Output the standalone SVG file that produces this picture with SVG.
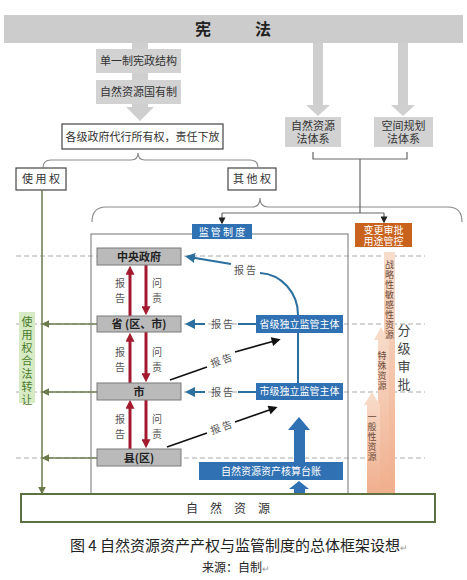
<svg xmlns="http://www.w3.org/2000/svg" width="467" height="580" viewBox="0 0 467 580">
<style>
text{font-family:"Noto Sans CJK SC","Liberation Sans",sans-serif;}
.two{font-family:"Liberation Sans","Noto Sans CJK SC",sans-serif;}
.gbox{fill:#d2d2d2;}
.t11{font-size:11px;fill:#333;text-anchor:middle;}
.wbox{fill:#fff;stroke:#444;stroke-width:1.2;}
.gov{fill:#bababa;stroke:#7a7a7a;stroke-width:1;}
.govt{font-size:11px;fill:#222;text-anchor:middle;font-weight:bold;}
.blue{fill:#2f71b3;}
.wt{font-size:10px;fill:#fff;text-anchor:middle;}
.dash{stroke:#aaa;stroke-width:1;stroke-dasharray:5,3;fill:none;}
.frame{stroke:#8a8a8a;stroke-width:1.2;fill:none;}
.brace{stroke:#8a8a8a;stroke-width:1.2;fill:none;}
.conn{stroke:#666;stroke-width:1.2;fill:none;}
.green{stroke:#6b7a4a;stroke-width:1.5;fill:none;}
.red{stroke:#a3192e;stroke-width:3;fill:none;}
.bl{stroke:#2a6f9e;stroke-width:2;fill:none;}
.blk{stroke:#111;stroke-width:1.6;fill:none;}
.lab{font-size:10px;fill:#555;text-anchor:middle;}
.vert{writing-mode:vertical-rl;text-anchor:start;}
.vt{font-size:9px;fill:#6a4a3a;letter-spacing:1px;}
</style>
<defs>
<marker id="mg" viewBox="0 0 10 10" refX="8" refY="5" markerWidth="8" markerHeight="8" orient="auto" markerUnits="userSpaceOnUse"><path d="M0,0 L10,5 L0,10 z" fill="#6b7a4a"/></marker>
<marker id="mr" viewBox="0 0 10 10" refX="3" refY="5" markerWidth="9" markerHeight="9" orient="auto" markerUnits="userSpaceOnUse"><path d="M0,0 L10,5 L0,10 z" fill="#a3192e"/></marker>
<marker id="mb" viewBox="0 0 10 10" refX="6" refY="5" markerWidth="10" markerHeight="10" orient="auto" markerUnits="userSpaceOnUse"><path d="M0,0 L10,5 L0,10 z" fill="#2a6f9e"/></marker>
<marker id="mk" viewBox="0 0 10 10" refX="7" refY="5" markerWidth="10" markerHeight="9" orient="auto" markerUnits="userSpaceOnUse"><path d="M0,0 L10,5 L0,10 z" fill="#111"/></marker>
<marker id="md" viewBox="0 0 10 10" refX="8" refY="5" markerWidth="7" markerHeight="7" orient="auto" markerUnits="userSpaceOnUse"><path d="M0,0 L10,5 L0,10 z" fill="#222"/></marker>
<linearGradient id="pg" x1="0" y1="0" x2="0" y2="1"><stop offset="0" stop-color="#f8ddcc"/><stop offset="1" stop-color="#f0ae8c"/></linearGradient>
</defs>

<!-- dashed level lines -->
<g id="levels">
<line class="dash" x1="16" y1="256" x2="425" y2="256"/>
<line class="dash" x1="16" y1="324" x2="425" y2="324"/>
<line class="dash" x1="16" y1="392" x2="425" y2="392"/>
<line class="dash" x1="16" y1="458" x2="425" y2="458"/>
</g>

<!-- gray wide arrows from constitution -->
<g id="gray-arrows" fill="#cfcfcf">
<rect x="132" y="43" width="16" height="65"/>
<polygon points="126,107 154,107 140,121"/>
<rect x="313" y="43" width="10" height="65"/>
<polygon points="306,105 330,105 318,116"/>
<rect x="398" y="43" width="10" height="65"/>
<polygon points="391,105 415,105 403,116"/>
</g>

<g id="xianfa">
<rect x="4" y="15" width="459" height="28" fill="#cccccc"/>
<text x="203" y="35" font-size="16" font-weight="bold" fill="#222" text-anchor="middle">宪</text>
<text x="263" y="35" font-size="16" font-weight="bold" fill="#222" text-anchor="middle">法</text>
</g>
<g id="danyizhi"><rect class="gbox" x="96" y="49" width="85" height="24"/><text class="t11" x="138.5" y="65">单一制宪政结构</text></g>
<g id="guoyouzhi"><rect class="gbox" x="96" y="80" width="85" height="24"/><text class="t11" x="138.5" y="96">自然资源国有制</text></g>
<g id="zrzyfa"><rect class="gbox" x="285" y="117" width="56" height="30"/><text class="t11 two" x="313" y="130"><tspan x="313">自然资源</tspan><tspan x="313" dy="13">法体系</tspan></text></g>
<g id="kjghfa"><rect class="gbox" x="374" y="117" width="59" height="30"/><text class="t11 two" x="403.5" y="130"><tspan x="403.5">空间规划</tspan><tspan x="403.5" dy="13">法体系</tspan></text></g>

<g id="gejizhengfu"><rect class="wbox" x="62" y="124" width="161" height="25"/><text class="t11" x="142.5" y="140.5" fill="#222">各级政府代行所有权，责任下放</text></g>
<g id="shiyongquan"><rect class="wbox" x="16" y="168" width="50" height="22"/><text class="t11" x="41" y="183" fill="#222">使 用 权</text></g>
<g id="qitaquan"><rect class="wbox" x="228" y="168" width="48" height="22"/><text class="t11" x="252" y="183" fill="#222">其 他 权</text></g>

<!-- connectors -->
<g id="connectors">
<path class="brace" d="M43,168 Q43,160 51,160 L131,160 Q138,160 138,153 Q138,160 145,160 L250,160 Q258,160 258,168"/>
<path class="brace" d="M92,222 Q92,207 106,207 L252,207 Q260,207 260,198 Q260,207 268,207 L448,207 Q462,207 462,222"/>
<path class="conn" d="M313,152 L313,159 L407,159 L407,152"/>
<line class="conn" x1="360" y1="159" x2="360" y2="213"/>
<line class="conn" x1="222" y1="213" x2="384" y2="213"/>
<line class="conn" x1="222" y1="213" x2="222" y2="223" marker-end="url(#md)"/>
<line class="conn" x1="384" y1="213" x2="384" y2="222" marker-end="url(#md)"/>
<line class="green" x1="42" y1="190" x2="42" y2="493" marker-end="url(#mg)"/>
<line class="green" x1="97" y1="324" x2="43" y2="324" marker-end="url(#mg)"/>
<line class="green" x1="97" y1="392" x2="43" y2="392" marker-end="url(#mg)"/>
<line class="green" x1="97" y1="458" x2="43" y2="458" marker-end="url(#mg)"/>
<line class="red" x1="130" y1="316" x2="130" y2="272" marker-end="url(#mr)"/>
<line class="red" x1="146" y1="265" x2="146" y2="309" marker-end="url(#mr)"/>
<line class="red" x1="130" y1="383" x2="130" y2="339" marker-end="url(#mr)"/>
<line class="red" x1="146" y1="332" x2="146" y2="376" marker-end="url(#mr)"/>
<line class="red" x1="130" y1="449" x2="130" y2="406" marker-end="url(#mr)"/>
<line class="red" x1="146" y1="400" x2="146" y2="442" marker-end="url(#mr)"/>
<path class="bl" d="M298,315 A40,42 0 0 0 260,273"/>
<line class="bl" x1="231" y1="264" x2="189" y2="257" marker-end="url(#mb)"/>
<line class="bl" x1="298" y1="333" x2="298" y2="383"/>
<line class="bl" x1="256" y1="324" x2="238" y2="324"/>
<line class="bl" x1="205" y1="324" x2="189" y2="324" marker-end="url(#mb)"/>
<line class="bl" x1="256" y1="392" x2="238" y2="392"/>
<line class="bl" x1="205" y1="392" x2="189" y2="392" marker-end="url(#mb)"/>
<line class="blk" x1="170" y1="380" x2="207" y2="367"/>
<line class="blk" x1="235" y1="352" x2="278" y2="340" marker-end="url(#mk)"/>
<line class="blk" x1="167" y1="447" x2="207" y2="433"/>
<line class="blk" x1="235" y1="422" x2="275" y2="408" marker-end="url(#mk)"/>
</g>

<g id="frame"><rect class="frame" x="91" y="234" width="257" height="262"/></g>

<g id="labels">
<text class="lab" x="120" y="287">报</text><text class="lab" x="120" y="302">告</text>
<text class="lab" x="157" y="287">问</text><text class="lab" x="157" y="302">责</text>
<text class="lab" x="120" y="356">报</text><text class="lab" x="120" y="371">告</text>
<text class="lab" x="157" y="356">问</text><text class="lab" x="157" y="371">责</text>
<text class="lab" x="120" y="423">报</text><text class="lab" x="120" y="438">告</text>
<text class="lab" x="157" y="423">问</text><text class="lab" x="157" y="438">责</text>
<text class="lab" x="245" y="274">报 告</text>
<text class="lab" x="222" y="328">报 告</text>
<text class="lab" x="222" y="396">报 告</text>
<text class="lab" x="221" y="364" transform="rotate(-20 221 360)">报 告</text>
<text class="lab" x="221" y="431" transform="rotate(-20 221 427)">报 告</text>
</g>

<g id="jianguanzhidu"><rect class="blue" x="192" y="224" width="60" height="15"/><text class="wt" x="222" y="235.5">监 管 制 度</text></g>
<g id="biangeng"><rect x="355" y="223" width="57" height="24" fill="#c9621c"/><text class="wt two" x="383.5" y="233.5"><tspan x="383.5">变更审批</tspan><tspan x="383.5" dy="11">用途管控</tspan></text></g>

<g id="zhongyang"><rect class="gov" x="97" y="248" width="84" height="17"/><text class="govt" x="139" y="260.5">中央政府</text></g>
<g id="sheng"><rect class="gov" x="97" y="316" width="84" height="16"/><text class="govt" x="139" y="328">省 (区、市)</text></g>
<g id="shi"><rect class="gov" x="97" y="383" width="84" height="17"/><text class="govt" x="139" y="395.5">市</text></g>
<g id="xian"><rect class="gov" x="97" y="449" width="84" height="17"/><text class="govt" x="139" y="461.5">县(区)</text></g>

<g id="shengji"><rect class="blue" x="256" y="315" width="87" height="18"/><text class="wt" x="299.5" y="327.5">省级独立监管主体</text></g>
<g id="shiji"><rect class="blue" x="256" y="383" width="87" height="17"/><text class="wt" x="299.5" y="395">市级独立监管主体</text></g>
<g id="taizhang"><rect class="blue" x="199" y="462" width="144" height="18"/><text class="wt" x="271" y="474.5">自然资源资产核算台账</text></g>
<g id="blue-arrows" fill="#2f71b3">
<rect x="294" y="429" width="11" height="33"/>
<polygon points="288,430 310,430 299,417"/>
<rect x="294" y="488" width="11" height="6"/>
<polygon points="289,489 309,489 299,481"/>
</g>

<g id="zhuanrang"><rect x="19" y="312" width="16" height="91" fill="#d6ebc4"/>
<text class="vert" x="27" y="316" font-size="11" fill="#4a7a2b" letter-spacing="2">使用权合法转让</text></g>

<g id="shenpi">
<polygon fill="url(#pg)" points="384,252 395,252 395,494 384,494"/>
<polygon fill="url(#pg)" points="378,340 374,340 381,327 388,340 389,340 389,494 378,494"/>
<polygon fill="url(#pg)" points="367,405 364,405 372,392 380,405 380,405 380,494 367,494"/>
<text class="vert vt" x="389.5" y="260">战略性敏感性资源</text>
<text class="vert vt" x="382" y="351">特殊资源</text>
<text class="vert vt" x="372" y="412">一般性资源</text>
<text class="vert" x="404" y="324" font-size="13" fill="#444" letter-spacing="5">分级审批</text>
</g>

<g id="ziranziyuan"><rect x="21" y="494" width="414" height="28" fill="#fff" stroke="#5d7042" stroke-width="2"/><text x="228" y="513" font-size="12" fill="#333" text-anchor="middle">自　然　资　源</text></g>

<g id="caption">
<text x="70" y="551" font-size="15" fill="#222">图 4 自然资源资产产权与监管制度的总体框架设想<tspan font-size="9" fill="#999">↵</tspan></text>
<text x="202" y="572" font-size="12" fill="#222">来源：自制<tspan font-size="9" fill="#999">↵</tspan></text>
</g>
</svg>
